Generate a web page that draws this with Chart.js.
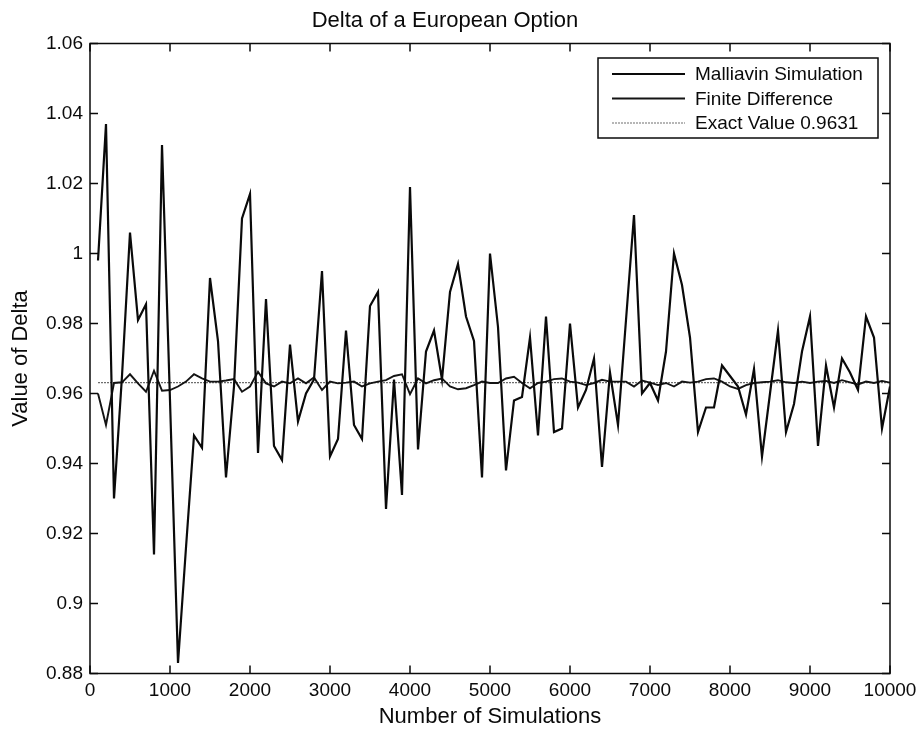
<!DOCTYPE html>
<html>
<head>
<meta charset="utf-8">
<title>Delta of a European Option</title>
<script src="https://cdn.jsdelivr.net/npm/chart.js@4.4.1/dist/chart.umd.min.js"></script>
<style>
  html, body { margin: 0; padding: 0; background: #fff; }
  #wrap { width: 923px; height: 732px; position: relative; }
</style>
</head>
<body>
<div id="wrap"><canvas id="deltaChart"></canvas></div>
<script>
// number of simulated paths behind each estimate
const simulations = [
  100, 200, 300, 400, 500, 600, 700, 800, 900, 1000,
  1100, 1200, 1300, 1400, 1500, 1600, 1700, 1800, 1900, 2000,
  2100, 2200, 2300, 2400, 2500, 2600, 2700, 2800, 2900, 3000,
  3100, 3200, 3300, 3400, 3500, 3600, 3700, 3800, 3900, 4000,
  4100, 4200, 4300, 4400, 4500, 4600, 4700, 4800, 4900, 5000,
  5100, 5200, 5300, 5400, 5500, 5600, 5700, 5800, 5900, 6000,
  6100, 6200, 6300, 6400, 6500, 6600, 6700, 6800, 6900, 7000,
  7100, 7200, 7300, 7400, 7500, 7600, 7700, 7800, 7900, 8000,
  8100, 8200, 8300, 8400, 8500, 8600, 8700, 8800, 8900, 9000,
  9100, 9200, 9300, 9400, 9500, 9600, 9700, 9800, 9900, 10000
];

// delta estimated with the Malliavin weight
const malliavin = [
  0.998, 1.037, 0.930, 0.965, 1.006, 0.981, 0.9855, 0.914, 1.031, 0.958,
  0.883, 0.916, 0.948, 0.9445, 0.993, 0.975, 0.936, 0.962, 1.010, 1.017,
  0.943, 0.987, 0.945, 0.941, 0.974, 0.952, 0.960, 0.964, 0.995, 0.942,
  0.947, 0.978, 0.951, 0.947, 0.985, 0.989, 0.927, 0.964, 0.931, 1.019,
  0.944, 0.972, 0.978, 0.964, 0.989, 0.997, 0.982, 0.975, 0.936, 1.000,
  0.979, 0.938, 0.958, 0.959, 0.976, 0.948, 0.982, 0.949, 0.950, 0.980,
  0.956, 0.961, 0.970, 0.939, 0.966, 0.951, 0.981, 1.011, 0.960, 0.963,
  0.958, 0.972, 1.000, 0.991, 0.976, 0.949, 0.956, 0.956, 0.968, 0.965,
  0.962, 0.954, 0.967, 0.942, 0.960, 0.978, 0.949, 0.957, 0.972, 0.982,
  0.945, 0.968, 0.956, 0.970, 0.966, 0.961, 0.982, 0.976, 0.950, 0.962
];

// delta estimated by finite difference
const finiteDiff = [
  0.9600, 0.9510, 0.9630, 0.9632, 0.9655, 0.9629, 0.9605, 0.9665, 0.9608, 0.9610,
  0.9620, 0.9634, 0.9655, 0.9643, 0.9634, 0.9634, 0.9637, 0.9641, 0.9605, 0.9620,
  0.9662, 0.9629, 0.9620, 0.9634, 0.9629, 0.9643, 0.9629, 0.9646, 0.9610, 0.9634,
  0.9629, 0.9631, 0.9634, 0.9620, 0.9629, 0.9634, 0.9638, 0.9650, 0.9655, 0.9598,
  0.9643, 0.9629, 0.9638, 0.9643, 0.9620, 0.9612, 0.9615, 0.9624, 0.9634, 0.9630,
  0.9630, 0.9643, 0.9648, 0.9630, 0.9615, 0.9630, 0.9634, 0.9641, 0.9643, 0.9634,
  0.9631, 0.9624, 0.9630, 0.9639, 0.9634, 0.9634, 0.9634, 0.9620, 0.9637, 0.9631,
  0.9624, 0.9630, 0.9620, 0.9634, 0.9631, 0.9634, 0.9641, 0.9643, 0.9634, 0.9620,
  0.9613, 0.9624, 0.9630, 0.9632, 0.9634, 0.9638, 0.9632, 0.9630, 0.9634, 0.9630,
  0.9634, 0.9636, 0.9630, 0.9638, 0.9632, 0.9626, 0.9634, 0.9630, 0.9636, 0.9631
];

const exactValue = 0.9631;

const xTicks = [0, 1000, 2000, 3000, 4000, 5000, 6000, 7000, 8000, 9000, 10000];
const yTicks = [0.88, 0.9, 0.92, 0.94, 0.96, 0.98, 1, 1.02, 1.04, 1.06];
const yTickLabels = ['0.88', '0.9', '0.92', '0.94', '0.96', '0.98', '1', '1.02', '1.04', '1.06'];

const toPoints = ys => ys.map((y, i) => ({ x: simulations[i], y: y }));

const fontFamily = "'Liberation Sans', Arial, Helvetica, sans-serif";
const tickFont = { family: fontFamily, size: 19 };
const labelFont = { family: fontFamily, size: 22, weight: 'normal' };
const ink = '#0a0a0a';

// box round the axes with the ticks pointing inwards, on all four sides
const framePlugin = {
  id: 'frame',
  afterDatasetsDraw(chart) {
    const { ctx, chartArea: a, scales: { x, y } } = chart;
    const len = 8;
    ctx.save();
    ctx.strokeStyle = ink;
    ctx.lineWidth = 1.5;
    ctx.strokeRect(a.left, a.top, a.right - a.left, a.bottom - a.top);
    ctx.beginPath();
    xTicks.forEach(v => {
      const px = x.getPixelForValue(v);
      ctx.moveTo(px, a.bottom); ctx.lineTo(px, a.bottom - len);
      ctx.moveTo(px, a.top); ctx.lineTo(px, a.top + len);
    });
    yTicks.forEach(v => {
      const py = y.getPixelForValue(v);
      ctx.moveTo(a.left, py); ctx.lineTo(a.left + len, py);
      ctx.moveTo(a.right, py); ctx.lineTo(a.right - len, py);
    });
    ctx.stroke();
    ctx.restore();
  }
};

// framed legend in the upper right corner, line sample left of each label
const boxLegend = {
  id: 'boxLegend',
  afterDraw(chart) {
    const { ctx, chartArea: a } = chart;
    const w = 280, h = 80, rowH = 24.5;
    const right = a.right - 12, top = a.top + 14.5;
    const left = right - w;
    ctx.save();
    ctx.fillStyle = '#fff';
    ctx.fillRect(left, top, w, h);
    ctx.strokeStyle = ink;
    ctx.lineWidth = 1.5;
    ctx.strokeRect(left, top, w, h);
    ctx.font = tickFont.size + 'px ' + fontFamily;
    ctx.textBaseline = 'middle';
    ctx.textAlign = 'left';
    chart.data.datasets.forEach((ds, i) => {
      const yy = top + 16 + i * rowH;
      ctx.beginPath();
      ctx.strokeStyle = ds.borderColor;
      ctx.lineWidth = ds.borderWidth;
      ctx.setLineDash(ds.borderDash || []);
      ctx.moveTo(left + 14, yy);
      ctx.lineTo(left + 87, yy);
      ctx.stroke();
      ctx.setLineDash([]);
      ctx.fillStyle = ink;
      ctx.fillText(ds.label, left + 97, yy + 1);
    });
    ctx.restore();
  }
};

new Chart(document.getElementById('deltaChart'), {
  type: 'line',
  data: {
    datasets: [
      {
        label: 'Malliavin Simulation',
        data: toPoints(malliavin),
        borderColor: ink,
        borderWidth: 2.2,
        pointRadius: 0,
        tension: 0
      },
      {
        label: 'Finite Difference',
        data: toPoints(finiteDiff),
        borderColor: '#141414',
        borderWidth: 1.9,
        pointRadius: 0,
        tension: 0
      },
      {
        label: 'Exact Value ' + exactValue,
        data: [
          { x: simulations[0], y: exactValue },
          { x: simulations[simulations.length - 1], y: exactValue }
        ],
        borderColor: '#6e6e6e',
        borderWidth: 1.1,
        borderDash: [2, 1],
        pointRadius: 0
      }
    ]
  },
  options: {
    responsive: true,
    maintainAspectRatio: false,
    animation: false,
    layout: { padding: { left: 0, right: 33, top: 0, bottom: 0 } },
    plugins: {
      legend: { display: false },
      tooltip: { enabled: false },
      title: {
        display: true,
        text: 'Delta of a European Option',
        color: ink,
        font: labelFont,
        padding: { top: 8, bottom: 9.1 }
      }
    },
    scales: {
      x: {
        type: 'linear',
        min: 0,
        max: 10000,
        grid: { display: false, drawTicks: false },
        border: { display: false },
        afterBuildTicks: s => { s.ticks = xTicks.map(v => ({ value: v })); },
        afterFit: s => { s.height = 58.5; },
        ticks: {
          color: ink,
          font: tickFont,
          padding: 6,
          maxRotation: 0,
          autoSkip: false,
          callback: v => String(v)
        },
        title: {
          display: true,
          text: 'Number of Simulations',
          color: ink,
          font: labelFont,
          padding: { top: 0, bottom: 2 }
        }
      },
      y: {
        type: 'linear',
        min: 0.88,
        max: 1.06,
        grid: { display: false, drawTicks: false },
        border: { display: false },
        afterBuildTicks: s => { s.ticks = yTicks.map(v => ({ value: v })); },
        afterFit: s => { s.width = 90; },
        ticks: {
          color: ink,
          font: tickFont,
          padding: 7,
          autoSkip: false,
          callback: (v, i) => yTickLabels[i]
        },
        title: {
          display: true,
          text: 'Value of Delta',
          color: ink,
          font: labelFont,
          padding: { top: 8, bottom: 0 }
        }
      }
    }
  },
  plugins: [framePlugin, boxLegend]
});
</script>
</body>
</html>
